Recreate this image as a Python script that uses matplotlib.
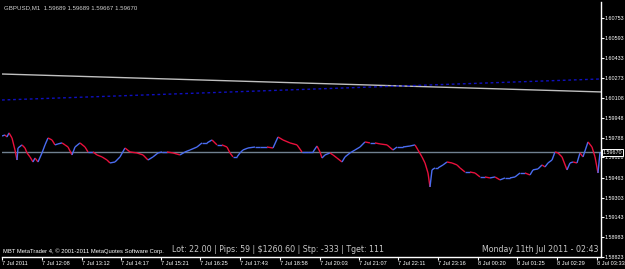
import matplotlib
matplotlib.use("Agg")
import matplotlib.pyplot as plt
from matplotlib.collections import LineCollection

# bar position (px along the chart) and close price
bar_x = [2, 5, 7, 9, 12, 15, 17, 18, 22, 25, 27, 30, 33, 35, 38, 42, 45, 48, 52, 55,
         58, 62, 65, 68, 72, 75, 80, 85, 88, 93, 97, 102, 107, 110, 115, 120, 125, 130,
         137, 143, 148, 153, 158, 162, 167, 173, 180, 185, 190, 197, 202, 207, 212, 217,
         222, 227, 230, 233, 237, 240, 243, 248, 255, 260, 267, 273, 278, 283, 290, 297,
         302, 308, 313, 317, 320, 322, 325, 330, 333, 337, 342, 345, 350, 355, 360, 365,
         370, 375, 380, 387, 393, 397, 403, 410, 415, 418, 422, 425, 428, 430, 432, 435,
         438, 443, 447, 452, 457, 460, 465, 470, 475, 480, 485, 490, 495, 500, 505, 510,
         515, 520, 525, 530, 533, 538, 542, 545, 548, 552, 555, 558, 562, 567, 570, 573,
         577, 580, 583, 588, 592, 595, 598, 600]
close = [1.59801, 1.59809, 1.59793, 1.59826, 1.59785, 1.59688, 1.59607, 1.59704, 1.59729,
         1.59704, 1.59664, 1.59632, 1.59591, 1.59623, 1.59591, 1.59664, 1.59729, 1.59785,
         1.59769, 1.59729, 1.59737, 1.59745, 1.59729, 1.59712, 1.59648, 1.59712, 1.59745,
         1.59712, 1.59672, 1.59672, 1.59648, 1.59632, 1.59607, 1.59583, 1.59591, 1.59632,
         1.59704, 1.59672, 1.59664, 1.59648, 1.59607, 1.59632, 1.59664, 1.59672, 1.59672,
         1.59664, 1.59648, 1.59672, 1.59688, 1.59712, 1.59745, 1.59745, 1.59769, 1.59729,
         1.59729, 1.59712, 1.59664, 1.59632, 1.59632, 1.59664, 1.59688, 1.59704, 1.59712,
         1.59712, 1.59712, 1.59704, 1.59793, 1.59769, 1.59745, 1.59729, 1.59672, 1.59672,
         1.59672, 1.59720, 1.59672, 1.59623, 1.59648, 1.59664, 1.59648, 1.59623, 1.59591,
         1.59632, 1.59664, 1.59688, 1.59712, 1.59753, 1.59745, 1.59745, 1.59737, 1.59729,
         1.59688, 1.59712, 1.59712, 1.59720, 1.59729, 1.59688, 1.59632, 1.59583, 1.59502,
         1.59389, 1.59527, 1.59543, 1.59543, 1.59567, 1.59591, 1.59583, 1.59567, 1.59543,
         1.59510, 1.59510, 1.59502, 1.59470, 1.59470, 1.59462, 1.59470, 1.59446, 1.59462,
         1.59462, 1.59470, 1.59502, 1.59502, 1.59486, 1.59527, 1.59535, 1.59567, 1.59551,
         1.59583, 1.59607, 1.59672, 1.59664, 1.59632, 1.59527, 1.59583, 1.59591, 1.59583,
         1.59664, 1.59632, 1.59753, 1.59712, 1.59632, 1.59502, 1.59670]

# trend lines (start / end price)
trend_grey = [1.60302, 1.60157]
trend_blue = [1.60092, 1.60262]
current_price = 1.59670

price_ticks = [1.60753, 1.60593, 1.60433, 1.60273, 1.60108, 1.59948, 1.59788,
               1.59628, 1.59463, 1.59303, 1.59143, 1.58983, 1.58823]
time_pos = [2, 42, 82, 121, 161, 200, 240, 280, 320, 359, 398, 438, 478, 517, 557, 597]
time_labels = ["7 Jul 2011", "7 Jul 12:08", "7 Jul 13:12", "7 Jul 14:17", "7 Jul 15:21",
               "7 Jul 16:25", "7 Jul 17:43", "7 Jul 18:58", "7 Jul 20:03", "7 Jul 21:07",
               "7 Jul 22:11", "7 Jul 23:16", "8 Jul 00:20", "8 Jul 01:25", "8 Jul 02:29",
               "8 Jul 03:33"]

small = "Liberation Sans"

W, H = 625, 269
fig = plt.figure(figsize=(W / 100, H / 100), dpi=100, facecolor="black")
ax = fig.add_axes([2 / W, 12 / H, 599 / W, 255 / H], facecolor="black")
ax.set_xlim(2, 601)
ax.set_ylim(1.58823, 1.60884)

# trend lines
ax.plot([2, 601], trend_grey, color="#c0c0c0", lw=1.0)
ax.plot([2, 601], trend_blue, color="#1010c0", lw=1.0, ls=(0, (2, 2)))
ax.axhline(current_price, color="#708090", lw=1.0)

# price path, blue when rising, red when falling
segs = []
cols = []
for i in range(1, len(bar_x)):
    segs.append([(bar_x[i - 1], close[i - 1]), (bar_x[i], close[i])])
    cols.append("#4a6cf0" if close[i] >= close[i - 1] else "#e8103c")
ax.add_collection(LineCollection(segs, colors=cols, linewidths=1.0))

# axes frame: only right and bottom in white
for s in ["top", "left"]:
    ax.spines[s].set_visible(False)
for s in ["right", "bottom"]:
    ax.spines[s].set_color("white")
    ax.spines[s].set_linewidth(1.0)

ax.yaxis.tick_right()
ax.set_yticks(price_ticks)
ax.set_yticklabels([f"{p:.5f}" for p in price_ticks], family=small)
ax.tick_params(axis="y", colors="white", labelsize=3.9, length=2, pad=0.8, width=0.8)

ax.set_xticks(time_pos)
ax.set_xticklabels(time_labels, family=small)
ax.tick_params(axis="x", colors="white", labelsize=4.1, length=2.5, pad=0.5, width=0.8)
for lab in ax.get_xticklabels():
    lab.set_horizontalalignment("left")

# current price label box
ax.text(603, current_price, f"{current_price:.5f}", color="white", fontsize=3.9,
        family=small, va="center", ha="left", clip_on=False,
        bbox=dict(boxstyle="square,pad=0.15", fc="black", ec="white", lw=0.7))

# header and footer texts
fig.text(4 / W, 1 - 8 / H, "GBPUSD,M1  1.59689 1.59689 1.59667 1.59670",
         color="#d0d0d0", fontsize=4.4, family=small, va="center", ha="left")
fig.text(3 / W, 1 - 251 / H, "MBT MetaTrader 4, \u00a9 2001-2011 MetaQuotes Software Corp.",
         color="white", fontsize=4.2, family=small, va="center", ha="left")
fig.text(172 / W, 1 - 250 / H, "Lot: 22.00 | Pips: 59 | $1260.60 | Stp: -333 | Tget: 111",
         color="#c8c8c8", fontsize=5.7, va="center", ha="left")
fig.text(598 / W, 1 - 250 / H, "Monday 11th Jul 2011 - 02:43",
         color="#c8c8c8", fontsize=5.7, va="center", ha="right")

fig.savefig("out.png", dpi=100, facecolor="black")
